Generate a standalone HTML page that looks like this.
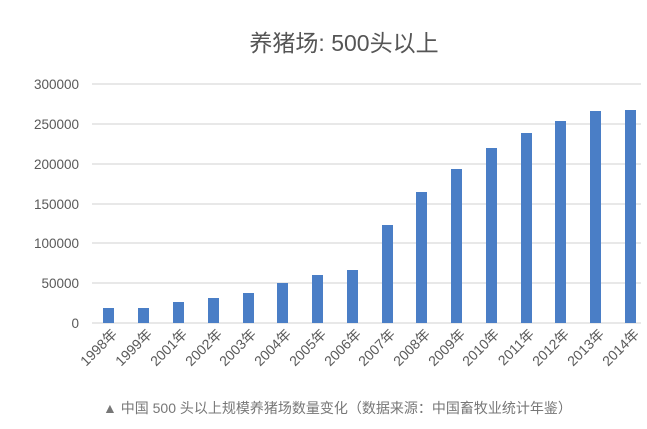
<!DOCTYPE html>
<html><head><meta charset="utf-8"><style>
html,body{margin:0;padding:0;background:#fff;width:647px;height:429px;overflow:hidden}
</style></head><body>
<svg width="647" height="429" xmlns="http://www.w3.org/2000/svg" style="font-family:'Liberation Sans','Noto Sans CJK SC',sans-serif">
<text x="344" y="51" text-anchor="middle" font-size="23" fill="#555">养猪场: 500头以上</text>
<g stroke="#d9d9d9" stroke-width="1.3">
<line x1="92" x2="641" y1="84" y2="84"/>
<line x1="92" x2="641" y1="124" y2="124"/>
<line x1="92" x2="641" y1="164" y2="164"/>
<line x1="92" x2="641" y1="204" y2="204"/>
<line x1="92" x2="641" y1="243" y2="243"/>
<line x1="92" x2="641" y1="283" y2="283"/>
<line x1="92" x2="641" y1="323" y2="323"/>
</g>
<g font-size="13.5" fill="#595959" text-anchor="end">
<text x="79" y="89">300000</text>
<text x="79" y="129">250000</text>
<text x="79" y="169">200000</text>
<text x="79" y="209">150000</text>
<text x="79" y="248">100000</text>
<text x="79" y="288">50000</text>
<text x="79" y="328">0</text>
</g>
<g fill="#4a7ec6">
<rect x="103" y="308" width="11" height="15"/>
<rect x="138" y="308" width="11" height="15"/>
<rect x="173" y="302" width="11" height="21"/>
<rect x="208" y="298" width="11" height="25"/>
<rect x="243" y="293" width="11" height="30"/>
<rect x="277" y="283" width="11" height="40"/>
<rect x="312" y="275" width="11" height="48"/>
<rect x="347" y="270" width="11" height="53"/>
<rect x="382" y="225" width="11" height="98"/>
<rect x="416" y="192" width="11" height="131"/>
<rect x="451" y="169" width="11" height="154"/>
<rect x="486" y="148" width="11" height="175"/>
<rect x="521" y="133" width="11" height="190"/>
<rect x="555" y="121" width="11" height="202"/>
<rect x="590" y="111" width="11" height="212"/>
<rect x="625" y="110" width="11" height="213"/>
</g>
<g font-size="14" fill="#595959" text-anchor="end">
<text transform="translate(118,335) rotate(-45)">1998年</text>
<text transform="translate(153,335) rotate(-45)">1999年</text>
<text transform="translate(188,335) rotate(-45)">2001年</text>
<text transform="translate(223,335) rotate(-45)">2002年</text>
<text transform="translate(257,335) rotate(-45)">2003年</text>
<text transform="translate(292,335) rotate(-45)">2004年</text>
<text transform="translate(327,335) rotate(-45)">2005年</text>
<text transform="translate(362,335) rotate(-45)">2006年</text>
<text transform="translate(396,335) rotate(-45)">2007年</text>
<text transform="translate(431,335) rotate(-45)">2008年</text>
<text transform="translate(466,335) rotate(-45)">2009年</text>
<text transform="translate(500,335) rotate(-45)">2010年</text>
<text transform="translate(535,335) rotate(-45)">2011年</text>
<text transform="translate(570,335) rotate(-45)">2012年</text>
<text transform="translate(605,335) rotate(-45)">2013年</text>
<text transform="translate(640,335) rotate(-45)">2014年</text>
</g>
<text x="103" y="413" font-size="14" fill="#777">▲ 中国 500 头以上规模养猪场数量变化（数据来源：中国畜牧业统计年鉴）</text>
</svg>
</body></html>
